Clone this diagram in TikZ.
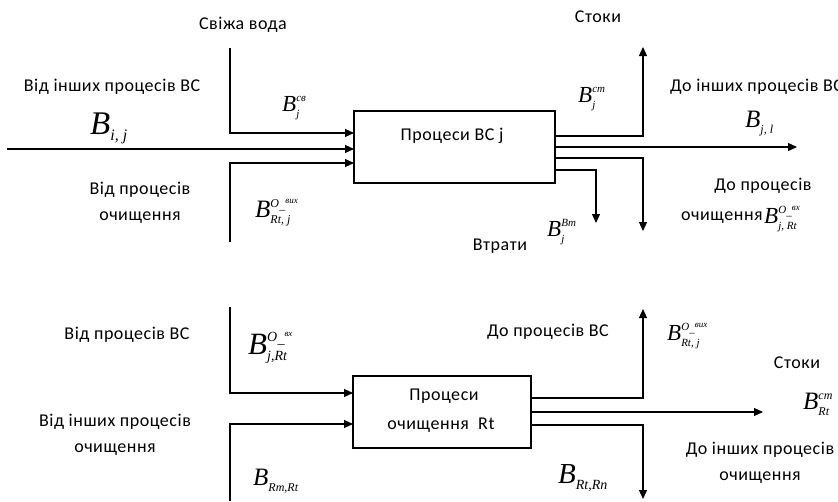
\documentclass[tikz,border=0pt]{standalone}
\usepackage{fontspec}
\setmainfont{Carlito}[LetterSpace=3]
\newfontfamily\serf{Liberation Serif}
\usetikzlibrary{arrows.meta}
\newcommand{\lsi}{\serf\itshape}
% #1 base size, #2 script size, #3 sub, #4 sup
\newcommand{\Bsym}[4]{{\fontsize{#1}{#1}\selectfont$\hbox{\lsi B}_{\hbox{\lsi\fontsize{#2}{#2}\selectfont #3}}^{\hbox{\lsi\fontsize{#2}{#2}\selectfont #4}}$}}
\newcommand{\Osup}[1]{O\kern0.02em\raisebox{-0.15em}{\_}\raisebox{0.35em}{\fontsize{9}{9}\selectfont #1}}
\begin{document}
\begin{tikzpicture}[x=1pt,y=-1pt,
  flow/.style={line width=1.1pt},
  arr/.style={flow,-{Triangle[length=9pt,width=8pt]}},
  box/.style={draw,line width=1.1pt,fill=white},
  lbl/.style={font=\fontsize{18}{21}\selectfont,inner sep=0pt},
  sym/.style={inner sep=0pt,anchor=base west}]
\useasboundingbox (0,0) rectangle (838,501);
% ===== top block =====
\coordinate (b1nw) at (354,111);
\coordinate (b1se) at (555,183);
\draw[box] (b1nw) rectangle (b1se);
\node[lbl] (b1t) at (452,136) {Процеси ВС j};
% inputs
\coordinate (fw0) at (230,48);
\coordinate (fw1) at (230,133);
\coordinate (fw2) at (354,133);
\draw[arr] (fw0) -- (fw1) -- (fw2);
\coordinate (oi0) at (7,149);
\coordinate (oi1) at (354,149);
\draw[arr] (oi0) -- (oi1);
\coordinate (cl0) at (230,242);
\coordinate (cl1) at (230,163);
\coordinate (cl2) at (354,163);
\draw[arr] (cl0) -- (cl1) -- (cl2);
% outputs
\coordinate (so0) at (555,136);
\coordinate (so1) at (643,136);
\coordinate (so2) at (643,47);
\draw[arr] (so0) -- (so1) -- (so2);
\coordinate (ot0) at (555,147);
\coordinate (ot1) at (797,147);
\draw[arr] (ot0) -- (ot1);
\coordinate (tc0) at (555,158);
\coordinate (tc1) at (643,158);
\coordinate (tc2) at (643,231);
\draw[arr] (tc0) -- (tc1) -- (tc2);
\coordinate (ls0) at (555,170);
\coordinate (ls1) at (596,170);
\coordinate (ls2) at (596,223);
\draw[arr] (ls0) -- (ls1) -- (ls2);
% labels
\node[lbl] (t1) at (243,25) {Свіжа вода};
\node[lbl] (t2) at (112,87) {Від інших процесів ВС};
\node[lbl] (t3) at (140,190) {Від процесів};
\node[lbl] (t4) at (140,218) {очищення};
\node[lbl] (t5) at (598,17) {Стоки};
\node[lbl,anchor=west] (t6) at (670,87) {До інших процесів ВС};
\node[lbl] (t7) at (763,186) {До процесів};
\node[lbl,anchor=west] (t8) at (681,218) {очищення};
\node[lbl] (t9) at (500,246) {Втрати};
\node[sym] (s1) at (90,134) {\Bsym{33}{16}{i, j}{}};
\node[sym] (s2) at (282,111) {\Bsym{23}{11}{j}{св}};
\node[sym] (s3) at (255,217) {\Bsym{25}{12}{Rt, j}{\Osup{вих}}};
\node[sym] (s4) at (578,102) {\Bsym{23}{11}{j}{ст}};
\node[sym] (s5) at (745,127) {\Bsym{25}{12}{j, l}{}};
\node[sym] (s6) at (547,236) {\Bsym{23}{11}{j}{Вт}};
\node[sym] (s7) at (764,223) {\Bsym{23}{11}{j, Rt}{\Osup{вх}}};
% ===== bottom block =====
\coordinate (b2nw) at (353,376);
\coordinate (b2se) at (531,448);
\draw[box] (b2nw) rectangle (b2se);
\node[lbl] (b2a) at (444,396) {Процеси};
\node[lbl] (b2b) at (441,425) {очищення\ \ Rt};
\coordinate (pv0) at (230,307);
\coordinate (pv1) at (230,393);
\coordinate (pv2) at (353,393);
\draw[arr] (pv0) -- (pv1) -- (pv2);
\coordinate (oc0) at (230,501);
\coordinate (oc1) at (230,424);
\coordinate (oc2) at (353,424);
\draw[arr] (oc0) -- (oc1) -- (oc2);
\coordinate (rv0) at (531,398);
\coordinate (rv1) at (643,398);
\coordinate (rv2) at (643,309);
\draw[arr] (rv0) -- (rv1) -- (rv2);
\coordinate (rs0) at (531,412);
\coordinate (rs1) at (763,412);
\draw[arr] (rs0) -- (rs1);
\coordinate (rn0) at (531,425);
\coordinate (rn1) at (643,425);
\coordinate (rn2) at (643,499);
\draw[arr] (rn0) -- (rn1) -- (rn2);
\node[lbl] (u1) at (127,335) {Від процесів ВС};
\node[lbl] (u2) at (115,422) {Від інших процесів};
\node[lbl] (u3) at (115,450) {очищення};
\node[lbl] (u4) at (548,332) {До процесів ВС};
\node[lbl] (u5) at (797,363) {Стоки};
\node[lbl] (u6) at (760,450) {До інших процесів};
\node[lbl] (u7) at (760,478) {очищення};
\node[sym] (v1) at (248,354) {\Bsym{31}{14}{j,Rt}{\Osup{вх}}};
\node[sym] (v2) at (253,485) {\Bsym{25}{12}{Rm,Rt}{}};
\node[sym] (v3) at (667,340) {\Bsym{23}{11}{Rt, j}{\Osup{вих}}};
\node[sym] (v4) at (803,409) {\Bsym{25}{12}{Rt}{ст}};
\node[sym] (v5) at (558,483) {\Bsym{29}{14}{Rt,Rn}{}};
\end{tikzpicture}
\end{document}
